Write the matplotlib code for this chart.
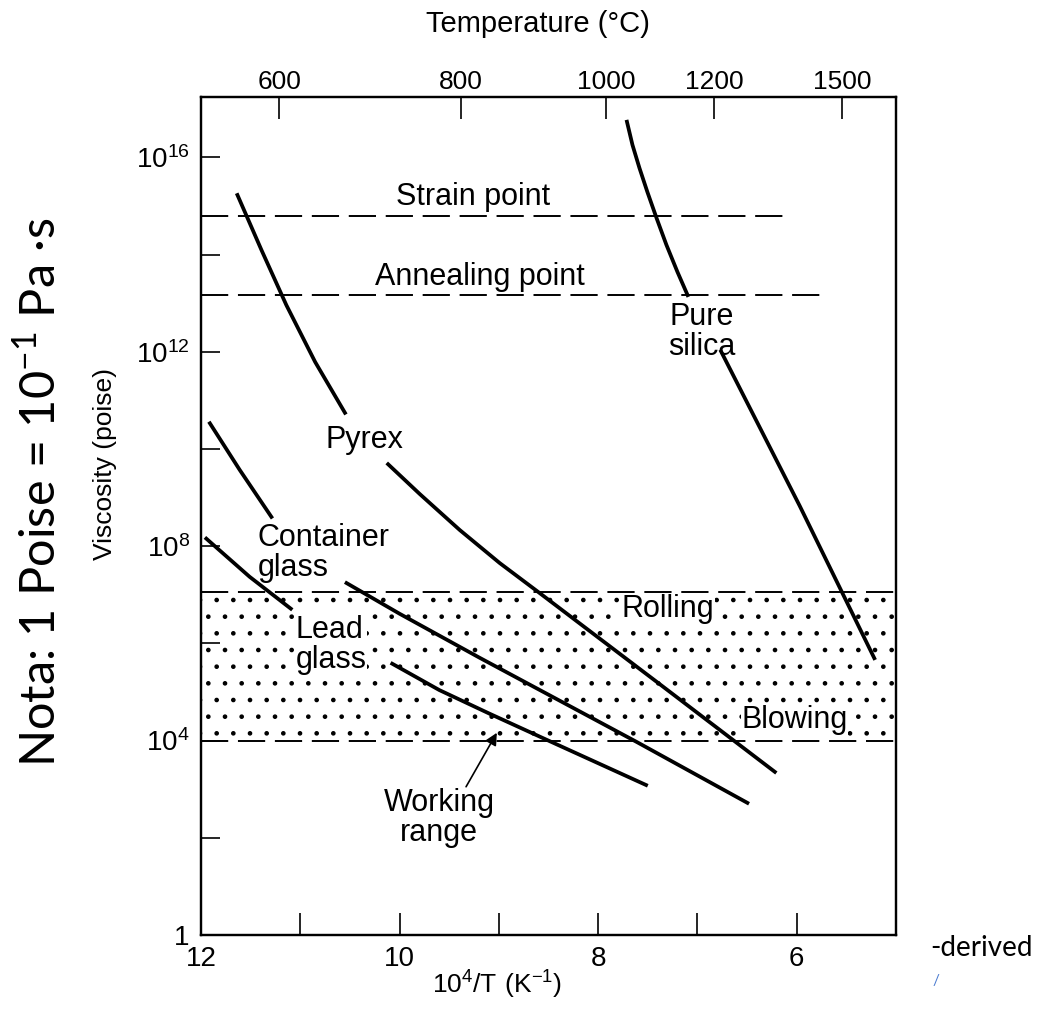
import numpy as np
import matplotlib
matplotlib.use("Agg")
import matplotlib.pyplot as plt

plt.rcParams['font.family'] = ['Liberation Sans', 'DejaVu Sans']
plt.rcParams['hatch.color'] = 'black'
plt.rcParams['hatch.linewidth'] = 0.9

# ---- data: x = 10^4/T (1/K), y = log10(viscosity / poise) ----
pyrex_hi_x = [11.64, 11.39, 11.14, 10.85, 10.54]
pyrex_hi_y = [15.26, 14.09, 12.96, 11.79, 10.71]
pyrex_lo_x = [10.129, 9.797, 9.394, 8.992, 8.590, 7.382, 6.205]
pyrex_lo_y = [9.712, 9.074, 8.333, 7.654, 7.037, 5.165, 3.333]

container_hi_x = [11.92, 11.61, 11.28]
container_hi_y = [10.56, 9.57, 8.57]
container_lo_x = [10.55, 10.00, 9.19, 7.61, 6.48]
container_lo_y = [7.26, 6.61, 5.70, 3.97, 2.70]

lead_hi_x = [11.96, 11.51, 11.08]
lead_hi_y = [8.18, 7.37, 6.69]
lead_lo_x = [10.09, 9.60, 9.09, 8.49, 7.50]
lead_lo_y = [5.60, 5.04, 4.55, 3.99, 3.07]

silica_hi_x = [7.714, 7.654, 7.584, 7.504, 7.412, 7.312, 7.201, 7.091]
silica_hi_y = [16.770, 16.255, 15.782, 15.288, 14.753, 14.198, 13.642, 13.128]
silica_lo_x = [6.77, 5.97, 5.21]
silica_lo_y = [12.04, 8.83, 5.66]

# reference viscosity levels (log10 poise) and how far they run along x
strain_log, strain_end = 14.80, 6.07
anneal_log, anneal_end = 13.17, 5.75
rolling_log = 7.05
blowing_log = 4.0

x_left, x_right = 12.0, 5.0
y_top_log = 17.24

bottom_major = [12, 10, 8, 6]
bottom_minor = [11, 9, 7]
y_major_exp = [0, 4, 8, 12, 16]
y_minor_exp = [2, 6, 10, 14]

temp_labels = ['600', '800', '1000', '1200', '1500']
temp_tick_x = [11.21, 9.38, 7.92, 6.83, 5.54]

# ---- figure ----
fig = plt.figure(figsize=(10.45, 10.13), dpi=100)
ax = fig.add_axes([0.1923, 0.0770, 0.6651, 0.8272])
ax.set_yscale('log')
ax.set_xlim(x_left, x_right)
ax.set_ylim(1, 10 ** y_top_log)

for s in ax.spines.values():
    s.set_linewidth(1.6)

curve_kw = dict(color='black', lw=2.7, solid_capstyle='butt', solid_joinstyle='round')
for xs, ys in [(pyrex_hi_x, pyrex_hi_y), (pyrex_lo_x, pyrex_lo_y),
               (container_hi_x, container_hi_y), (container_lo_x, container_lo_y),
               (lead_hi_x, lead_hi_y), (lead_lo_x, lead_lo_y),
               (silica_hi_x, silica_hi_y), (silica_lo_x, silica_lo_y)]:
    ax.plot(xs, 10 ** np.array(ys), **curve_kw)

# dashed reference levels
dash_kw = dict(color='black', lw=1.4, linestyle=(0, (14, 5)))
ax.plot([x_left, strain_end], [10 ** strain_log] * 2, **dash_kw)
ax.plot([x_left, anneal_end], [10 ** anneal_log] * 2, **dash_kw)
ax.plot([x_left, x_right], [10 ** rolling_log] * 2, **dash_kw)
ax.plot([x_left, x_right], [10 ** blowing_log] * 2, **dash_kw)

# stippled working range
ax.fill_between([x_left, x_right], 10 ** blowing_log, 10 ** rolling_log,
                facecolor='none', edgecolor='black', hatch='.', linewidth=0, zorder=0.5)

# ticks
ax.set_xticks(bottom_major, labels=[str(v) for v in bottom_major])
ax.set_xticks(bottom_minor, minor=True)
ax.set_yticks([10.0 ** e for e in y_major_exp],
              labels=['1' if e == 0 else r'$\mathregular{10^{%d}}$' % e for e in y_major_exp])
ax.set_yticks([10.0 ** e for e in y_minor_exp], minor=True)
ax.yaxis.set_minor_formatter(matplotlib.ticker.NullFormatter())
ax.tick_params(axis='both', which='both', direction='in', width=1.2, labelsize=20)
ax.tick_params(axis='x', which='both', length=16, pad=8)
ax.tick_params(axis='y', which='both', length=14, pad=8)

ax.set_xlabel(r'$\mathregular{10^4/T\ (K^{-1})}$', fontsize=19)
ax.xaxis.set_label_coords(0.426, -0.040)
ax.set_ylabel('Viscosity (poise)', fontsize=19)
ax.yaxis.set_label_coords(-0.121, 0.562)

# top temperature scale
ax2 = ax.twiny()
ax2.set_xlim(ax.get_xlim())
ax2.set_xticks(temp_tick_x, labels=temp_labels)
ax2.tick_params(axis='x', direction='in', length=16, width=1.2, labelsize=19, pad=2.5)
ax2.set_xlabel('Temperature (°C)', fontsize=21)
ax2.xaxis.set_label_coords(0.485, 1.078)
for s in ax2.spines.values():
    s.set_linewidth(1.6)

# annotations
lbl = dict(fontsize=22, color='black', ha='center', va='center')
clear = dict(facecolor='white', edgecolor='none', pad=0.5)
ax.text(9.26, 10 ** 15.19, 'Strain point', **lbl)
ax.text(9.19, 10 ** 13.54, 'Annealing point', **lbl)
ax.text(6.96, 10 ** 12.41, 'Pure\nsilica', linespacing=1.0, **lbl)
ax.text(10.35, 10 ** 10.19, 'Pyrex', **lbl)
ax.text(11.43, 10 ** 7.86, 'Container\nglass', fontsize=22, ha='left', va='center', linespacing=1.0)
ax.text(11.05, 10 ** 5.97, 'Lead\nglass', fontsize=22, ha='left', va='center', linespacing=1.0,
        bbox=clear)
ax.text(7.30, 10 ** 6.71, 'Rolling', bbox=clear, **lbl)
ax.text(6.02, 10 ** 4.42, 'Blowing', bbox=clear, **lbl)
ax.text(9.60, 10 ** 2.41, 'Working\nrange', linespacing=1.0, **lbl)
ax.annotate('', xy=(9.02, 10 ** 4.16), xytext=(9.33, 10 ** 3.05),
            arrowprops=dict(arrowstyle='-|>', lw=1.2, color='black', mutation_scale=18,
                            shrinkA=0, shrinkB=0))

# unit note and side text
fig.text(40 / 1045, 1 - 492 / 1013, 'Nota: 1 Poise = 10$^{\\mathregular{-1}}$ Pa ·s',
         rotation=90, fontsize=35, ha='center', va='center', fontfamily=['Lato', 'DejaVu Sans'])
fig.text(930 / 1045, 1 - 948 / 1013, '-derived', fontsize=20, ha='left', va='center',
         fontfamily=['Lato', 'DejaVu Sans'])
fig.text(936 / 1045, 1 - 981 / 1013, '/', fontsize=11, color='#4a7bd0', ha='center', va='center',
         fontfamily=['Lato', 'DejaVu Sans'])

fig.savefig('out.png', dpi=100)
